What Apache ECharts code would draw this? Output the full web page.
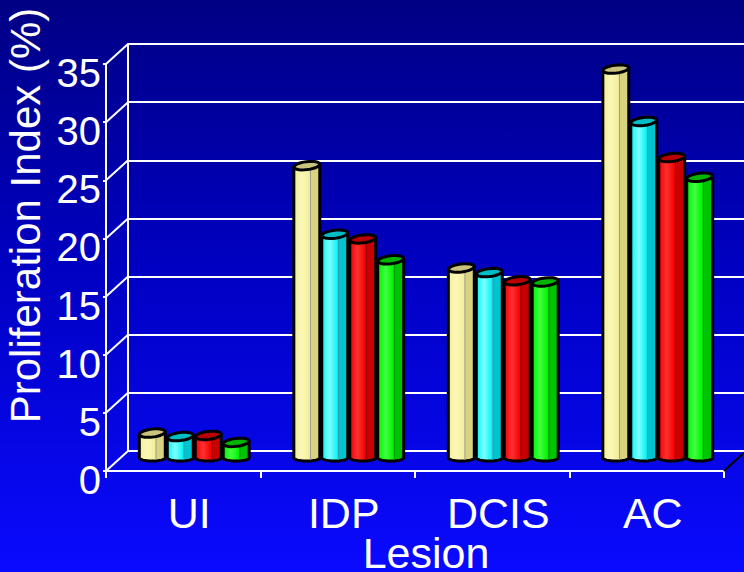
<!DOCTYPE html>
<html>
<head>
<meta charset="utf-8">
<script src="https://cdn.jsdelivr.net/npm/echarts@6/dist/echarts.min.js"></script>
<style>
html,body{margin:0;padding:0;}
#c{width:744px;height:572px;background:linear-gradient(to bottom,#000084 0%,#0000c0 45%,#0a0aff 100%);}
</style>
</head>
<body>
<div id="c"></div>
<script>
const categories = ['UI', 'IDP', 'DCIS', 'AC'];
const seriesYellow = [2.4, 25.4, 16.6, 33.7];
const seriesCyan = [2.1, 19.5, 16.2, 29.2];
const seriesRed = [2.2, 19.1, 15.5, 26.1];
const seriesGreen = [1.6, 17.3, 15.4, 24.4];
const yTicks = [0, 5, 10, 15, 20, 25, 30, 35];

const FONT = 'Liberation Sans, Arial, sans-serif';
const DEPTH = [22, -20]; // front -> back offset
const palettes = [
  {light:'#fbf8b8', base:'#f2ee98', side:'#d9d37f', top:'#c9c37c', line:'#9a9a9a'},
  {light:'#7fffff', base:'#00f4f4', side:'#00c4d0', top:'#00bcc4', line:'#3a9aa8'},
  {light:'#ff3030', base:'#f00000', side:'#c80000', top:'#b80000', line:'#900000'},
  {light:'#40ff40', base:'#00f000', side:'#00c400', top:'#00b400', line:'#009000'}
];
const allSeries = [seriesYellow, seriesCyan, seriesRed, seriesGreen];

function ellipsePts(cx, cy, rx, ry, a0, a1, n, tilt) {
  const pts = [];
  const ct = Math.cos(tilt), st = Math.sin(tilt);
  for (let i = 0; i <= n; i++) {
    const a = a0 + (a1 - a0) * i / n;
    const x = rx * Math.cos(a), y = ry * Math.sin(a);
    pts.push([cx + x * ct - y * st, cy + x * st + y * ct]);
  }
  return pts;
}

function barRenderer(sIdx) {
  return function (params, api) {
    const ci = api.value(0), v = api.value(1);
    const top = api.coord([ci, v]);
    const base = api.coord([ci, 0]);
    const bw = api.size([1, 0])[0] * 0.181;
    const cx = top[0] + (sIdx - 1.5) * bw;
    const xl = cx - bw / 2 + 1, xr = cx + bw / 2 - 1;
    const w = xr - xl;
    const yt = top[1], yb = base[1];
    const p = palettes[sIdx];
    const tilt = -0.12;
    const ry = 4;
    const dy = (w / 2) * Math.sin(-tilt);
    const body = [[xr, yt - dy], [xl, yt + dy], [xl, yb - 3]];
    ellipsePts(cx, yb - 3, w / 2, 3, Math.PI, 0, 12, 0).forEach(q => body.push(q));
    const topPts = ellipsePts(cx, yt, w / 2, ry, 0, Math.PI * 2, 28, tilt);
    const xm = xl + w * 0.64;
    return {
      type: 'group',
      children: [
        {
          type: 'polygon',
          shape: {points: body},
          style: {
            fill: new echarts.graphic.LinearGradient(0, 0, 1, 0, [
              {offset: 0, color: p.base},
              {offset: 0.3, color: p.light},
              {offset: 0.62, color: p.base},
              {offset: 0.66, color: p.side},
              {offset: 1, color: p.side}
            ]),
            stroke: '#000', lineWidth: 3, lineJoin: 'round'
          }
        },
        {
          type: 'line',
          shape: {x1: xm, y1: yt + 2, x2: xm, y2: yb - 1},
          style: {stroke: p.line, lineWidth: 1}
        },
        {
          type: 'polygon',
          shape: {points: topPts},
          style: {fill: p.top, stroke: '#000', lineWidth: 3, lineJoin: 'round'}
        }
      ]
    };
  };
}

const chart = echarts.init(document.getElementById('c'), null, {renderer: 'svg'});

const gbase = {containLabel: false, outerBoundsMode: 'none'};
const backGrid = Object.assign({left: 128, top: 44, width: 618, height: 407}, gbase);
const midGrid = Object.assign({left: 117, top: 54, width: 618, height: 407}, gbase);
const frontGrid = Object.assign({left: 106, top: 64, width: 618, height: 407}, gbase);

const option = {
  backgroundColor: 'transparent',
  animation: false,
  grid: [backGrid, midGrid, frontGrid],
  xAxis: [
    {gridIndex: 0, type: 'category', data: categories, show: false},
    {gridIndex: 1, type: 'category', data: categories, show: false},
    {
      gridIndex: 2, type: 'category', data: categories,
      axisLine: {show: true, lineStyle: {color: '#fff', width: 2}},
      axisTick: {show: true, interval: 0, length: 7, lineStyle: {color: '#fff', width: 2}},
      axisLabel: {color: '#fff', fontSize: 43, fontFamily: FONT, margin: 20, padding: [0, 0, 0, 12]},
      name: 'Lesion', nameLocation: 'middle', nameGap: 60, nameMoveOverlap: false,
      nameTextStyle: {color: '#fff', fontSize: 43, fontFamily: FONT, padding: [0, 0, 0, 22]}
    }
  ],
  yAxis: [
    {
      gridIndex: 0, type: 'value', min: 0, max: 35, interval: 5,
      axisLine: {show: true, lineStyle: {color: '#fff', width: 2}},
      axisTick: {show: false}, axisLabel: {show: false},
      splitLine: {show: true, lineStyle: {color: '#fff', width: 2}}
    },
    {gridIndex: 1, type: 'value', min: 0, max: 35, interval: 5, show: false, splitLine: {show: false}},
    {
      gridIndex: 2, type: 'value', min: 0, max: 35, interval: 5,
      axisLine: {show: true, lineStyle: {color: '#fff', width: 2}},
      axisTick: {show: true, length: 3, lineStyle: {color: '#fff', width: 2}},
      axisLabel: {color: '#fff', fontSize: 40, fontFamily: FONT, margin: 5, verticalAlign: 'top', lineHeight: 18},
      splitLine: {show: false},
      name: 'Proliferation Index (%)', nameLocation: 'middle', nameGap: 60, nameMoveOverlap: false,
      nameTextStyle: {color: '#fff', fontSize: 42, fontFamily: FONT, padding: [0, 0, 0, 104]}
    }
  ],
  series: [
    {
      type: 'custom', xAxisIndex: 2, yAxisIndex: 2, z: 3,
      data: yTicks.map(t => [0, t]),
      renderItem: function (params, api) {
        const cs = params.coordSys;
        const y = api.coord([0, api.value(1)])[1];
        const children = [{
          type: 'line',
          shape: {x1: cs.x, y1: y, x2: cs.x + DEPTH[0], y2: y + DEPTH[1]},
          style: {stroke: '#fff', lineWidth: 2}
        }];
        if (api.value(1) === 0) {
          children.push({
            type: 'line',
            shape: {x1: cs.x + cs.width, y1: y, x2: cs.x + cs.width + DEPTH[0], y2: y + DEPTH[1]},
            style: {stroke: '#000', lineWidth: 2}
          });
        }
        return {type: 'group', children: children};
      }
    }
  ].concat(allSeries.map((vals, i) => ({
    type: 'custom', xAxisIndex: 1, yAxisIndex: 1, z: 5,
    data: vals.map((v, k) => [k, v]),
    renderItem: barRenderer(i)
  })))
};
chart.setOption(option);
</script>
</body>
</html>
